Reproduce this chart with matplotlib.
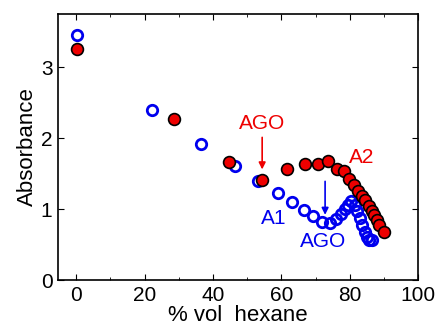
import matplotlib
matplotlib.use("Agg")
import matplotlib.pyplot as plt
from matplotlib.ticker import MultipleLocator

plt.rcParams['font.family'] = ['Liberation Sans', 'DejaVu Sans']

# A1 band (open blue circles)
a1_x = [0.2, 22.3, 36.5, 46.5, 53.3, 58.9, 63.1, 66.5, 69.4, 71.8, 74.3, 76.0,
        77.4, 78.6, 79.6, 80.4, 81.4, 82.2, 83.0, 83.7, 84.4, 85.0, 85.6, 86.5]
a1_y = [3.45, 2.40, 1.92, 1.61, 1.40, 1.22, 1.10, 0.99, 0.90, 0.82, 0.81, 0.86,
        0.93, 1.00, 1.06, 1.11, 1.06, 0.97, 0.87, 0.77, 0.68, 0.61, 0.57, 0.56]

# A2 band (filled red circles)
a2_x = [0.4, 28.5, 44.8, 54.4, 61.8, 67.0, 70.6, 73.6, 76.4, 78.4, 79.8, 81.3,
        82.5, 83.5, 84.5, 85.5, 86.5, 87.1, 87.9, 88.7, 89.9]
a2_y = [3.26, 2.27, 1.66, 1.41, 1.56, 1.63, 1.64, 1.68, 1.57, 1.53, 1.42, 1.34,
        1.26, 1.19, 1.13, 1.04, 0.98, 0.92, 0.85, 0.77, 0.68]

fig = plt.figure(figsize=(4.36, 3.33), dpi=100)
ax = fig.add_axes([0.133, 0.159, 0.826, 0.799])

ax.plot(a1_x, a1_y, 'o', ls='none', ms=7.5, mfc='none', mec='#0000ee', mew=2)
ax.plot(a2_x, a2_y, 'o', ls='none', ms=8.5, mfc='#ee0000', mec='black', mew=1.2)

ax.text(54.4, 2.21, 'AGO', color='#ee0000', fontsize=15, ha='center', va='center')
ax.annotate('', xy=(54.4, 1.52), xytext=(54.4, 2.05),
            arrowprops=dict(arrowstyle='-|>', color='#ee0000', lw=1.2, mutation_scale=10))
ax.text(83.5, 1.73, 'A2', color='#ee0000', fontsize=15, ha='center', va='center')
ax.text(57.7, 0.87, 'A1', color='#0000ee', fontsize=15, ha='center', va='center')
ax.text(72.3, 0.54, 'AGO', color='#0000ee', fontsize=15, ha='center', va='center')
ax.annotate('', xy=(72.8, 0.88), xytext=(72.8, 1.43),
            arrowprops=dict(arrowstyle='-|>', color='#0000ee', lw=1.2, mutation_scale=10))

ax.set_xlim(-5.3, 100)
ax.set_ylim(0, 3.75)
ax.xaxis.set_major_locator(MultipleLocator(20))
ax.xaxis.set_minor_locator(MultipleLocator(10))
ax.yaxis.set_major_locator(MultipleLocator(1))
ax.tick_params(which='both', direction='in', top=True, right=True, labelsize=15)
ax.tick_params(which='major', length=4, pad=4)
ax.tick_params(which='minor', length=2)
for s in ax.spines.values():
    s.set_linewidth(1.2)

ax.set_xlabel('% vol  hexane', fontsize=16, labelpad=0)
ax.set_ylabel('Absorbance', fontsize=16, labelpad=2)

fig.savefig('out.png', dpi=100)
